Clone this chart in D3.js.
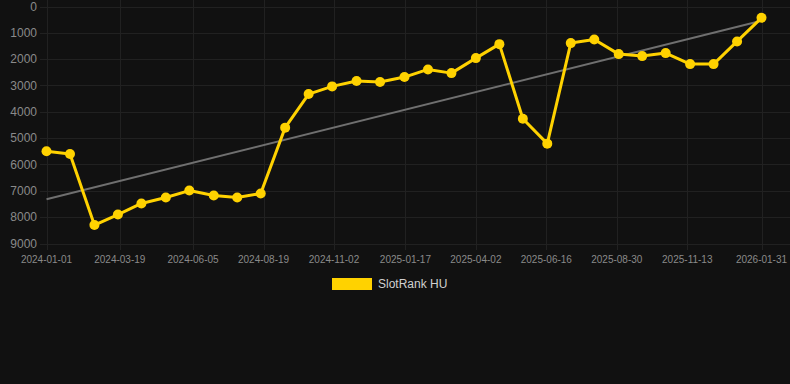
<!DOCTYPE html>
<html><head><meta charset="utf-8">
<script src="https://cdn.jsdelivr.net/npm/d3@7"></script>
<style>
html,body{margin:0;padding:0;background:#111111;}
svg{display:block;}
</style></head>
<body>
<div id="chart"></div>
<script>
const dates = ["2024-01-01","2024-01-26","2024-02-21","2024-03-17","2024-04-11","2024-05-07","2024-06-01","2024-06-27","2024-07-22","2024-08-16","2024-09-11","2024-10-06","2024-10-31","2024-11-26","2024-12-21","2025-01-16","2025-02-10","2025-03-07","2025-04-02","2025-04-27","2025-05-22","2025-06-17","2025-07-12","2025-08-06","2025-09-01","2025-09-26","2025-10-21","2025-11-16","2025-12-11","2026-01-05","2026-01-31"];
const ranks = [5500,5600,8300,7900,7480,7255,6990,7180,7255,7100,4600,3325,3034,2830,2870,2680,2390,2530,1960,1430,4260,5208,1390,1250,1808,1884,1770,2187,2187,1327,430];
const xTickLabels = ["2024-01-01","2024-03-19","2024-06-05","2024-08-19","2024-11-02","2025-01-17","2025-04-02","2025-06-16","2025-08-30","2025-11-13","2026-01-31"];
const yTicks = [0,1000,2000,3000,4000,5000,6000,7000,8000,9000];
const seriesName = "SlotRank HU";

const W = 790, H = 384;
const parse = d3.utcParse("%Y-%m-%d");
const svg = d3.select("#chart").append("svg").attr("width", W).attr("height", H);

const x = d3.scaleUtc().domain([parse(dates[0]), parse(dates[dates.length-1])]).range([46.5, 761.5]);
const y = d3.scaleLinear().domain([0, 9000]).range([6.5, 243.5]);

// grid
const g = svg.append("g");
g.selectAll("line.h").data(yTicks).join("line")
  .attr("x1", 40).attr("x2", 790)
  .attr("y1", d => Math.round(y(d)) + 0.5).attr("y2", d => Math.round(y(d)) + 0.5)
  .attr("stroke", "#212121").attr("stroke-width", 1);
g.selectAll("line.v").data(xTickLabels).join("line")
  .attr("x1", d => Math.round(x(parse(d))) + 0.5).attr("x2", d => Math.round(x(parse(d))) + 0.5)
  .attr("y1", 0).attr("y2", 250)
  .attr("stroke", "#212121").attr("stroke-width", 1);

// y axis labels
svg.append("g").selectAll("text").data(yTicks).join("text")
  .attr("x", 37).attr("y", d => y(d)).attr("dy", "0.35em")
  .attr("text-anchor", "end")
  .attr("font-family", "Liberation Sans, Arial, sans-serif").attr("font-size", 12)
  .attr("fill", "#8a8a8a").text(d => d);

// x axis labels
svg.append("g").selectAll("text").data(xTickLabels).join("text")
  .attr("x", d => x(parse(d))).attr("y", 259).attr("dy", "0.35em")
  .attr("text-anchor", "middle")
  .attr("font-family", "Liberation Sans, Arial, sans-serif").attr("font-size", 10)
  .attr("fill", "#8a8a8a").text(d => d);

// trend (least squares)
const pts = dates.map((d, i) => ({t: +parse(d), v: ranks[i]}));
const mt = d3.mean(pts, p => p.t), mv = d3.mean(pts, p => p.v);
const slope = d3.sum(pts, p => (p.t - mt) * (p.v - mv)) / d3.sum(pts, p => (p.t - mt) ** 2);
const t0 = pts[0].t, t1 = pts[pts.length-1].t;
const trend = [{t: t0, v: mv + slope * (t0 - mt)}, {t: t1, v: mv + slope * (t1 - mt)}];
svg.append("path").datum(trend)
  .attr("d", d3.line().x(p => x(new Date(p.t))).y(p => y(p.v)))
  .attr("fill", "none").attr("stroke", "#6f6f6f").attr("stroke-width", 2);

// series
const color = "#ffd200";
svg.append("path").datum(pts)
  .attr("d", d3.line().x(p => x(new Date(p.t))).y(p => y(p.v)))
  .attr("fill", "none").attr("stroke", color).attr("stroke-width", 3)
  .attr("stroke-linejoin", "round");
svg.append("g").selectAll("circle").data(pts).join("circle")
  .attr("cx", p => x(new Date(p.t))).attr("cy", p => y(p.v)).attr("r", 5)
  .attr("fill", color);

// legend
const lg = svg.append("g");
lg.append("rect").attr("x", 332).attr("y", 278).attr("width", 40).attr("height", 12).attr("fill", color);
lg.append("text").attr("x", 378).attr("y", 284).attr("dy", "0.35em")
  .attr("font-family", "Liberation Sans, Arial, sans-serif").attr("font-size", 12)
  .attr("fill", "#d0d0d0").text(seriesName);
</script>
</body></html>
